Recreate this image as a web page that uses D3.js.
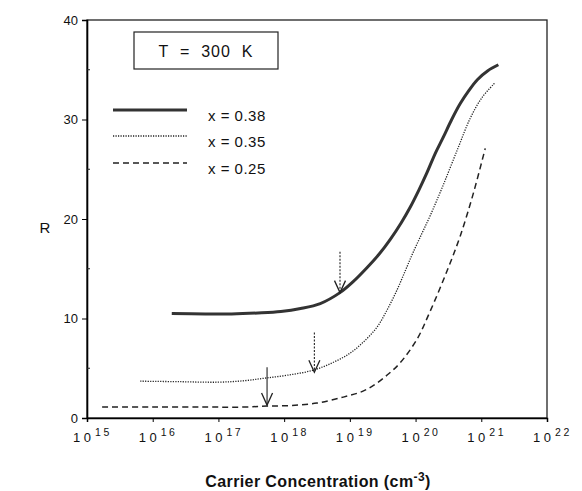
<!DOCTYPE html>
<html>
<head>
<meta charset="utf-8">
<script src="https://cdn.jsdelivr.net/npm/d3@7"></script>
<style>
  body { margin: 0; background: #fff; }
  svg text { font-family: "Liberation Sans", Arial, sans-serif; fill: #111; }
</style>
</head>
<body>
<div id="chart-area"></div>
<script>
// exponents of carrier concentration (log10 n) and R values
var exp38 = [16.29, 16.8, 17.2, 17.6, 17.95, 18.25, 18.55, 18.85, 19.05, 19.26, 19.45, 19.61, 19.78, 19.92, 20.05, 20.17, 20.3, 20.42, 20.55, 20.68, 20.81, 20.94, 21.1, 21.26];
var r38   = [10.5, 10.45, 10.45, 10.55, 10.7, 11.0, 11.5, 12.6, 13.7, 15.1, 16.5, 17.9, 19.6, 21.2, 22.9, 24.6, 26.6, 28.2, 30.0, 31.6, 32.9, 34.0, 34.9, 35.5];

var exp35 = [15.81, 16.4, 17.0, 17.4, 17.7, 18.05, 18.44, 18.75, 19.0, 19.2, 19.41, 19.57, 19.72, 19.85, 19.96, 20.1, 20.22, 20.42, 20.65, 20.83, 21.01, 21.21];
var r35   = [3.7, 3.65, 3.6, 3.75, 4.0, 4.3, 4.8, 5.6, 6.5, 7.6, 9.1, 10.9, 12.9, 14.9, 16.6, 18.6, 20.3, 23.4, 27.2, 30.1, 32.2, 33.7];

var exp25 = [15.23, 16.0, 16.8, 17.4, 17.74, 18.1, 18.5, 18.9, 19.2, 19.41, 19.6, 19.76, 20.02, 20.22, 20.48, 20.68, 20.88, 21.06];
var r25   = [1.1, 1.1, 1.1, 1.1, 1.2, 1.25, 1.5, 2.1, 2.7, 3.5, 4.5, 5.5, 7.9, 10.7, 14.8, 18.3, 22.6, 27.1];

var seriesNames = ["x = 0.38", "x = 0.35", "x = 0.25"];

// arrows: exponent, R at tip, R at top of shaft
var arrowExp = [18.85, 18.46, 17.74];
var arrowTip = [12.6, 4.6, 1.3];
var arrowTop = [16.7, 8.6, 5.1];

var xTickExp = [15, 16, 17, 18, 19, 20, 21, 22];
var yTicks = [0, 10, 20, 30, 40];
var yMinor = [5, 15, 25, 35];

var margin = { left: 87, right: 35, top: 20, bottom: 73 };
var width = 582 - margin.left - margin.right,
    height = 491 - margin.top - margin.bottom;

var svg = d3.select("#chart-area")
    .append("svg")
        .attr("width", 582)
        .attr("height", 491);

var g = svg.append("g")
    .attr("transform", "translate(" + margin.left + ", " + margin.top + ")");

var xScale = d3.scaleLog()
    .domain([1e15, 1e22])
    .range([0, width]);

var yScale = d3.scaleLinear()
    .domain([0, 40])
    .range([height, 0]);

// frame
g.append("rect")
    .attr("x", 0).attr("y", 0)
    .attr("width", width).attr("height", height)
    .attr("fill", "none")
    .attr("stroke", "#222")
    .attr("stroke-width", 1.3);

// x axis
var xAxisCall = d3.axisBottom(xScale)
    .tickValues(xTickExp.map(function(e){ return Math.pow(10, e); }))
    .tickSize(4)
    .tickFormat("");

var xAx = g.append("g")
    .attr("class", "x axis")
    .attr("transform", "translate(0, " + height + ")")
    .call(xAxisCall);
xAx.select(".domain").attr("stroke-width", 1.5);

var xl = g.append("g").selectAll("text")
    .data(xTickExp)
    .enter()
    .append("text")
        .attr("x", function(d){ return xScale(Math.pow(10, d)) - 14; })
        .attr("y", height + 24)
        .attr("font-size", "13px");
xl.append("tspan")
    .attr("xml:space", "preserve")
    .style("white-space", "pre")
    .text("1 0");
xl.append("tspan")
    .attr("dy", -6)
    .attr("dx", 4)
    .attr("font-size", "10.5px")
    .attr("letter-spacing", "2.5px")
    .text(function(d){ return d; });

// y axis
var yAxisCall = d3.axisLeft(yScale)
    .tickValues(yTicks)
    .tickSize(5)
    .tickPadding(4)
    .tickFormat(function(d){ return d; });

var yAx = g.append("g")
    .attr("class", "y axis")
    .call(yAxisCall);
yAx.select(".domain").attr("stroke-width", 1.6);
yAx.selectAll("text")
    .attr("font-size", "13px")
    .attr("font-family", "Liberation Sans, Arial, sans-serif")
    .attr("fill", "#111");

g.append("g").selectAll("line")
    .data(yMinor)
    .enter()
    .append("line")
        .attr("x1", 0).attr("x2", 3)
        .attr("y1", function(d){ return yScale(d); })
        .attr("y2", function(d){ return yScale(d); })
        .attr("stroke", "#222");

// curves
var line = d3.line()
    .curve(d3.curveCatmullRom.alpha(0.5))
    .x(function(d){ return xScale(Math.pow(10, d[0])); })
    .y(function(d){ return yScale(d[1]); });

var styles = [
    { w: 3, dash: null, color: "#333" },
    { w: 1.3, dash: "1.2,1.3", color: "#222" },
    { w: 1.5, dash: "6,4", color: "#222" }
];

var series = [d3.zip(exp38, r38), d3.zip(exp35, r35), d3.zip(exp25, r25)];

series.forEach(function(s, i){
    g.append("path")
        .attr("class", "line")
        .attr("d", line(s))
        .attr("fill", "none")
        .attr("stroke", styles[i].color)
        .attr("stroke-width", styles[i].w)
        .attr("stroke-dasharray", styles[i].dash);
});

// arrows
arrowExp.forEach(function(e, i){
    var ax = xScale(Math.pow(10, e));
    var yt = yScale(arrowTip[i]);
    var y0 = yScale(arrowTop[i]);
    g.append("line")
        .attr("x1", ax).attr("x2", ax)
        .attr("y1", y0).attr("y2", yt)
        .attr("stroke", "#222")
        .attr("stroke-width", 1.1)
        .attr("stroke-dasharray", i < 2 ? "2,1.5" : null);
    g.append("path")
        .attr("d", "M" + (ax - 5.5) + "," + (yt - 12) + "L" + ax + "," + yt + "L" + (ax + 5.5) + "," + (yt - 12))
        .attr("fill", "none")
        .attr("stroke", "#222")
        .attr("stroke-width", 1.3);
});

// T = 300 K box
svg.append("rect")
    .attr("x", 134).attr("y", 32)
    .attr("width", 144).attr("height", 37)
    .attr("fill", "none")
    .attr("stroke", "#222")
    .attr("stroke-width", 1.2);
svg.append("text")
    .attr("x", 206).attr("y", 57)
    .attr("text-anchor", "middle")
    .attr("font-size", "16px")
    .attr("letter-spacing", "1px")
    .attr("xml:space", "preserve")
    .style("white-space", "pre")
    .text("T  =  300  K");

// legend
var legY = [110, 136, 163];
seriesNames.forEach(function(name, i){
    svg.append("line")
        .attr("x1", 113).attr("x2", 187)
        .attr("y1", legY[i]).attr("y2", legY[i])
        .attr("stroke", styles[i].color)
        .attr("stroke-width", styles[i].w)
        .attr("stroke-dasharray", styles[i].dash);
    svg.append("text")
        .attr("x", 208).attr("y", legY[i] + 11)
        .attr("font-size", "15px")
        .attr("letter-spacing", "0.5px")
        .text(name);
});

// axis titles
svg.append("text")
    .attr("x", 45).attr("y", 233)
    .attr("text-anchor", "middle")
    .attr("font-size", "15px")
    .text("R");

var xt = svg.append("text")
    .attr("x", 318).attr("y", 487)
    .attr("text-anchor", "middle")
    .attr("font-size", "16px")
    .attr("letter-spacing", "0.4px")
    .attr("font-weight", "bold");
xt.append("tspan").text("Carrier Concentration (cm");
xt.append("tspan").attr("dy", -6).attr("font-size", "12px").text("-3");
xt.append("tspan").attr("dy", 6).text(")");
</script>
</body>
</html>
